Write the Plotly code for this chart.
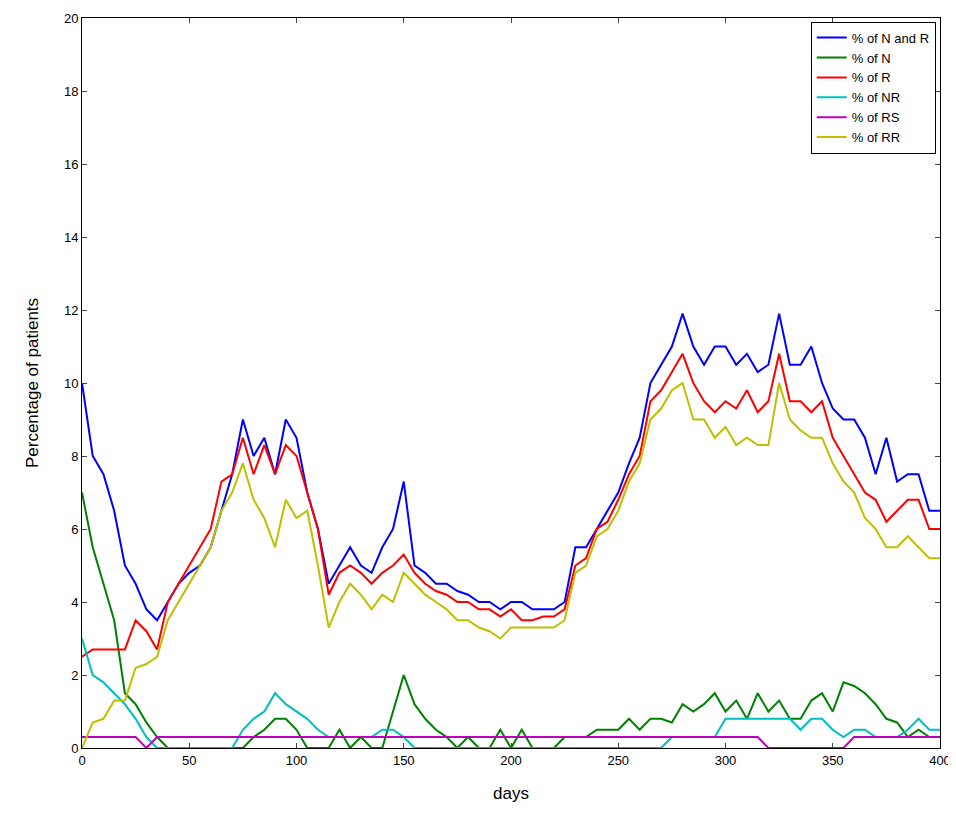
import plotly.graph_objects as go

days = list(range(0, 401, 5))

n_and_r = [10, 8, 7.5, 6.5, 5, 4.5, 3.8, 3.5, 4, 4.5, 4.8, 5, 5.5, 6.5, 7.5, 9,
           8, 8.5, 7.5, 9, 8.5, 7, 6, 4.5, 5, 5.5, 5, 4.8, 5.5, 6, 7.3, 5,
           4.8, 4.5, 4.5, 4.3, 4.2, 4, 4, 3.8, 4, 4, 3.8, 3.8, 3.8, 4, 5.5, 5.5,
           6, 6.5, 7, 7.8, 8.5, 10, 10.5, 11, 11.9, 11, 10.5, 11, 11, 10.5, 10.8, 10.3,
           10.5, 11.9, 10.5, 10.5, 11, 10, 9.3, 9, 9, 8.5, 7.5, 8.5, 7.3, 7.5, 7.5, 6.5, 6.5]
pct_n = [7, 5.5, 4.5, 3.5, 1.5, 1.2, 0.7, 0.3, 0, 0, 0, 0, 0, 0, 0, 0,
         0.3, 0.5, 0.8, 0.8, 0.5, 0, 0, 0, 0.5, 0, 0.3, 0, 0, 1, 2, 1.2,
         0.8, 0.5, 0.3, 0, 0.3, 0, 0, 0.5, 0, 0.5, 0, 0, 0, 0.3, 0.3, 0.3,
         0.5, 0.5, 0.5, 0.8, 0.5, 0.8, 0.8, 0.7, 1.2, 1, 1.2, 1.5, 1, 1.3, 0.8, 1.5,
         1, 1.3, 0.8, 0.8, 1.3, 1.5, 1, 1.8, 1.7, 1.5, 1.2, 0.8, 0.7, 0.3, 0.5, 0.3, 0.3]
pct_r = [2.5, 2.7, 2.7, 2.7, 2.7, 3.5, 3.2, 2.7, 4, 4.5, 5, 5.5, 6, 7.3, 7.5, 8.5,
         7.5, 8.3, 7.5, 8.3, 8, 7, 6, 4.2, 4.8, 5, 4.8, 4.5, 4.8, 5, 5.3, 4.8,
         4.5, 4.3, 4.2, 4, 4, 3.8, 3.8, 3.6, 3.8, 3.5, 3.5, 3.6, 3.6, 3.8, 5, 5.2,
         6, 6.2, 6.8, 7.5, 8, 9.5, 9.8, 10.3, 10.8, 10, 9.5, 9.2, 9.5, 9.3, 9.8, 9.2,
         9.5, 10.8, 9.5, 9.5, 9.2, 9.5, 8.5, 8, 7.5, 7, 6.8, 6.2, 6.5, 6.8, 6.8, 6, 6]
pct_nr = [3, 2, 1.8, 1.5, 1.2, 0.8, 0.3, 0, 0, 0, 0, 0, 0, 0, 0, 0.5,
          0.8, 1, 1.5, 1.2, 1, 0.8, 0.5, 0.3, 0.3, 0.3, 0.3, 0.3, 0.5, 0.5, 0.3, 0,
          0, 0, 0, 0, 0, 0, 0, 0, 0, 0, 0, 0, 0, 0, 0, 0,
          0, 0, 0, 0, 0, 0, 0, 0.3, 0.3, 0.3, 0.3, 0.3, 0.8, 0.8, 0.8, 0.8,
          0.8, 0.8, 0.8, 0.5, 0.8, 0.8, 0.5, 0.3, 0.5, 0.5, 0.3, 0.3, 0.3, 0.5, 0.8, 0.5, 0.5]
pct_rs = [0.3] * 6 + [0] + [0.3] * 57 + [0] * 8 + [0.3] * 9
pct_rr = [0, 0.7, 0.8, 1.3, 1.3, 2.2, 2.3, 2.5, 3.5, 4, 4.5, 5, 5.5, 6.5, 7, 7.8,
          6.8, 6.3, 5.5, 6.8, 6.3, 6.5, 5, 3.3, 4, 4.5, 4.2, 3.8, 4.2, 4, 4.8, 4.5,
          4.2, 4, 3.8, 3.5, 3.5, 3.3, 3.2, 3, 3.3, 3.3, 3.3, 3.3, 3.3, 3.5, 4.8, 5,
          5.8, 6, 6.5, 7.3, 7.8, 9, 9.3, 9.8, 10, 9, 9, 8.5, 8.8, 8.3, 8.5, 8.3,
          8.3, 10, 9, 8.7, 8.5, 8.5, 7.8, 7.3, 7, 6.3, 6, 5.5, 5.5, 5.8, 5.5, 5.2, 5.2]

series = [("% of N and R", n_and_r, "#0000ff"),
          ("% of N", pct_n, "#008000"),
          ("% of R", pct_r, "#ff0000"),
          ("% of NR", pct_nr, "#00bfbf"),
          ("% of RS", pct_rs, "#bf00bf"),
          ("% of RR", pct_rr, "#bfbf00")]

fig = go.Figure()
for name, vals, col in series:
    fig.add_trace(go.Scatter(x=days, y=vals, name=name, mode="lines",
                             line=dict(color=col, width=2)))

ax = dict(showline=True, linecolor="black", mirror="ticks", ticks="inside",
          ticklen=5, showgrid=False, zeroline=False, automargin=False,
          tickfont=dict(size=13))
fig.update_xaxes(range=[0, 400], dtick=50, title=dict(text="days", standoff=20), **ax)
fig.update_yaxes(range=[0, 20], dtick=2, title=dict(text="Percentage of patients", standoff=20), **ax)
fig.update_layout(
    width=948, height=819, plot_bgcolor="white", paper_bgcolor="white",
    margin=dict(l=74, r=16, t=10, b=79),
    font=dict(family="Liberation Sans, Arial", size=14, color="black"),
    legend=dict(x=0.995, y=0.995, xanchor="right", yanchor="top",
                bordercolor="black", borderwidth=1, bgcolor="white",
                font=dict(size=13)),
)
fig.write_html("out.html")
